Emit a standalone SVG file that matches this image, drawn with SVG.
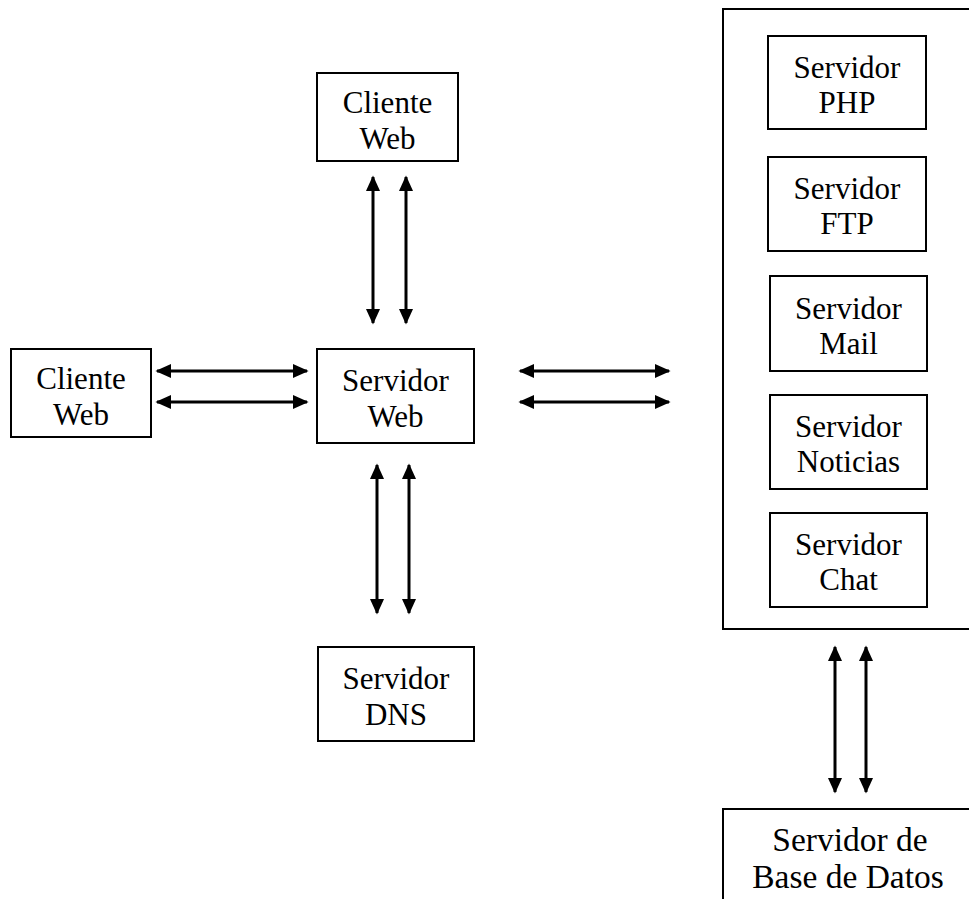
<svg xmlns="http://www.w3.org/2000/svg" width="969" height="899" viewBox="0 0 969 899">
<style>
.box{fill:#fff;stroke:#000;stroke-width:2}
.t{font-family:"Liberation Serif","Times New Roman",serif;font-size:31px;fill:#000;text-anchor:middle}
.big{font-size:33.5px}
.c{stroke:#000;stroke-width:3;fill:none;marker-start:url(#ah);marker-end:url(#ah)}
</style>
<defs>
<marker id="ah" viewBox="0 0 10 10" refX="9" refY="5" markerWidth="16" markerHeight="16" markerUnits="userSpaceOnUse" orient="auto-start-reverse">
<path d="M0,0.5 L10,5 L0,9.5 z" fill="#000"/>
</marker>
</defs>
<rect width="969" height="899" fill="#fff"/>
<g id="container"><rect class="box" x="723" y="9" width="250" height="620"/></g>
<g id="cliente-top"><rect class="box" x="317" y="73" width="141" height="88"/><text class="t" x="387.5" y="113">Cliente</text><text class="t" x="387.5" y="149">Web</text></g>
<g id="cliente-left"><rect class="box" x="11" y="349" width="140" height="88"/><text class="t" x="81" y="389">Cliente</text><text class="t" x="81" y="425">Web</text></g>
<g id="servidor-web"><rect class="box" x="317" y="349" width="157" height="94"/><text class="t" x="395.5" y="391">Servidor</text><text class="t" x="395.5" y="427">Web</text></g>
<g id="servidor-dns"><rect class="box" x="318" y="647" width="156" height="94"/><text class="t" x="396" y="689">Servidor</text><text class="t" x="396" y="725">DNS</text></g>
<g id="servidor-php"><rect class="box" x="768" y="36" width="158" height="93"/><text class="t" x="847" y="78">Servidor</text><text class="t" x="847" y="113">PHP</text></g>
<g id="servidor-ftp"><rect class="box" x="768" y="157" width="158" height="94"/><text class="t" x="847" y="199">Servidor</text><text class="t" x="847" y="234">FTP</text></g>
<g id="servidor-mail"><rect class="box" x="770" y="276" width="157" height="95"/><text class="t" x="848.5" y="319">Servidor</text><text class="t" x="848.5" y="354">Mail</text></g>
<g id="servidor-noticias"><rect class="box" x="770" y="395" width="157" height="94"/><text class="t" x="848.5" y="437">Servidor</text><text class="t" x="848.5" y="472">Noticias</text></g>
<g id="servidor-chat"><rect class="box" x="770" y="513" width="157" height="94"/><text class="t" x="848.5" y="555">Servidor</text><text class="t" x="848.5" y="590">Chat</text></g>
<g id="servidor-bd"><rect class="box" x="723" y="809" width="250" height="100"/><text class="t big" x="850" y="851">Servidor de</text><text class="t big" x="848" y="888">Base de Datos</text></g>
<g id="connectors">
<line class="c" x1="373" y1="177" x2="373" y2="323"/>
<line class="c" x1="406" y1="177" x2="406" y2="323"/>
<line class="c" x1="157" y1="371" x2="307" y2="371"/>
<line class="c" x1="157" y1="402" x2="307" y2="402"/>
<line class="c" x1="520" y1="371" x2="669" y2="371"/>
<line class="c" x1="520" y1="402" x2="669" y2="402"/>
<line class="c" x1="377" y1="465" x2="377" y2="613"/>
<line class="c" x1="409" y1="465" x2="409" y2="613"/>
<line class="c" x1="835" y1="647" x2="835" y2="792"/>
<line class="c" x1="866" y1="647" x2="866" y2="792"/>
</g>
</svg>
